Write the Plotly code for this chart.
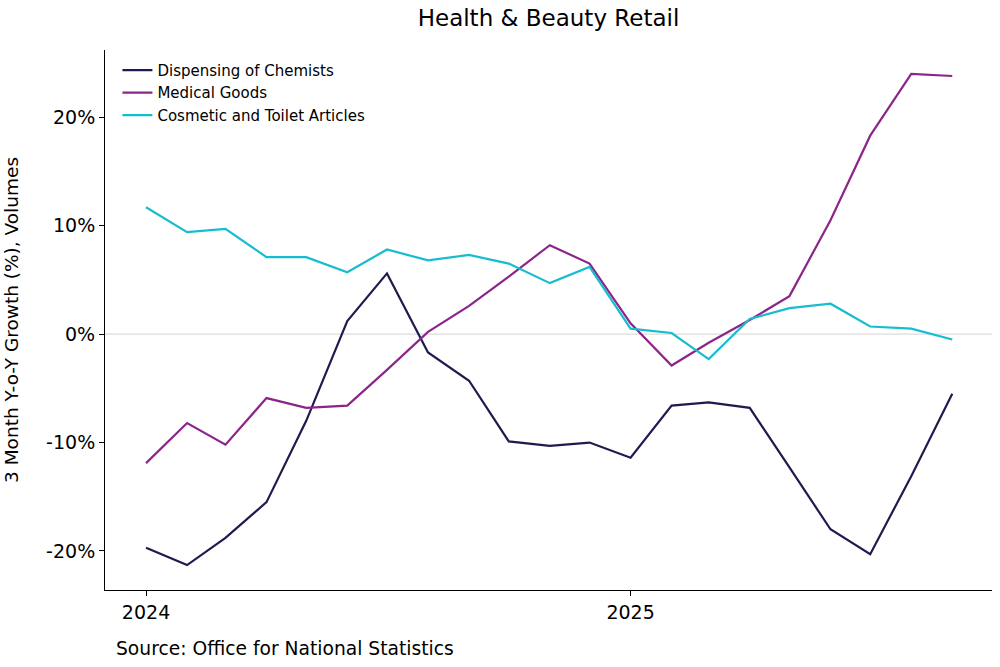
import plotly.graph_objects as go

months = ["2024-01-01", "2024-02-01", "2024-03-01", "2024-04-01", "2024-05-01", "2024-06-01",
          "2024-07-01", "2024-08-01", "2024-09-01", "2024-10-01", "2024-11-01", "2024-12-01",
          "2025-01-01", "2025-02-01", "2025-03-01", "2025-04-01", "2025-05-01", "2025-06-01",
          "2025-07-01", "2025-08-01", "2025-09-01"]

dispensing = [-19.7, -21.3, -18.8, -15.5, -8.0, 1.2, 5.6, -1.7, -4.3, -9.9, -10.3, -10.0,
              -11.4, -6.6, -6.3, -6.8, -12.3, -18.0, -20.3, -13.1, -5.5]
medical = [-11.9, -8.2, -10.2, -5.9, -6.8, -6.6, -3.3, 0.2, 2.6, 5.3, 8.2, 6.5,
           1.0, -2.9, -0.8, 1.3, 3.5, 10.5, 18.3, 24.0, 23.8]
cosmetic = [11.7, 9.4, 9.7, 7.1, 7.1, 5.7, 7.8, 6.8, 7.3, 6.5, 4.7, 6.2,
            0.5, 0.1, -2.3, 1.4, 2.4, 2.8, 0.7, 0.5, -0.5]

series_names = ["Dispensing of Chemists", "Medical Goods", "Cosmetic and Toilet Articles"]
series_colors = ["#1f1b4f", "#8b2589", "#17bccf"]
y_ticks = [-20, -10, 0, 10, 20]
y_tick_labels = ["-20%", "-10%", "0%", "10%", "20%"]
x_ticks = ["2024-01-01", "2025-01-01"]
x_tick_labels = ["2024", "2025"]

font = "DejaVu Sans"
fig = go.Figure()
for name, vals, col in zip(series_names, [dispensing, medical, cosmetic], series_colors):
    fig.add_trace(go.Scatter(x=months, y=vals, mode="lines", name=name,
                             line=dict(color=col, width=2.2)))

fig.add_hline(y=0, line=dict(color="#d3d3d3", width=1), layer="below")

fig.update_layout(
    width=1000, height=667,
    margin=dict(l=105, r=8, t=50, b=77),
    paper_bgcolor="white", plot_bgcolor="white",
    font=dict(family=font, color="black"),
    title=dict(text="Health & Beauty Retail", xref="paper", x=0.5, xanchor="center",
               yref="container", y=0.973, yanchor="middle",
               font=dict(size=23, family=font, color="black")),
    showlegend=True,
    legend=dict(x=0.014, y=0.993, xanchor="left", yanchor="top", bgcolor="rgba(0,0,0,0)",
                font=dict(size=15, family=font), tracegroupgap=0),
    xaxis=dict(range=["2023-12-01", "2025-10-01"], tickvals=x_ticks, ticktext=x_tick_labels,
               showgrid=False, zeroline=False, showline=True, linecolor="black", linewidth=1,
               ticks="outside", ticklen=5, tickcolor="black", tickfont=dict(size=19, family=font)),
    yaxis=dict(range=[-23.6, 26.2], tickvals=y_ticks, ticktext=y_tick_labels,
               showgrid=False, zeroline=False, showline=True, linecolor="black", linewidth=1,
               ticks="outside", ticklen=5, tickcolor="black", tickfont=dict(size=19, family=font),
               title=dict(text="3 Month Y-o-Y Growth (%), Volumes", font=dict(size=18.5, family=font),
                          standoff=22)),
    annotations=[dict(text="Source: Office for National Statistics", xref="paper", yref="paper",
                      x=0.0101, y=-0.109, xanchor="left", yanchor="middle", showarrow=False,
                      font=dict(size=18.7, family=font, color="black"))],
)

fig.write_html("out.html", config={"displayModeBar": False},
               post_script="document.body.style.margin='0';")
